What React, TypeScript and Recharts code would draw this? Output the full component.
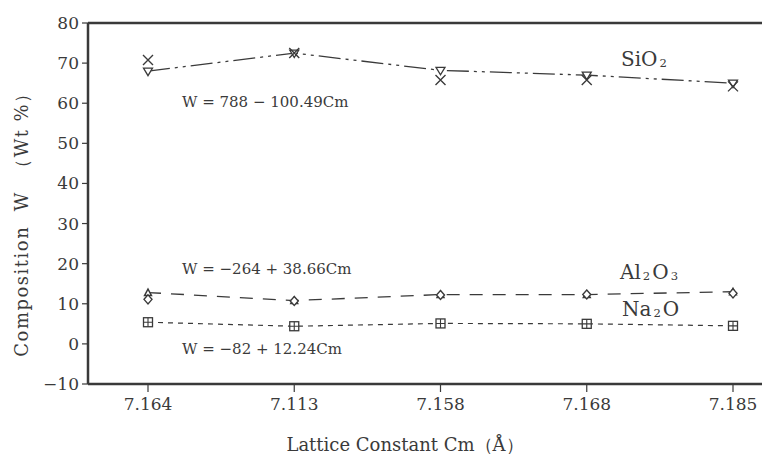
import React from "react";
import {
  LineChart,
  Line,
  XAxis,
  YAxis,
  ReferenceLine,
} from "recharts";

// lattice constant categories (in the order plotted)
const latticeConstants = ["7.164", "7.113", "7.158", "7.168", "7.185"];

// SiO2: fitted line markers (▽) and measured points (×)
const sio2Fit = [68.0, 72.5, 68.2, 67.0, 65.0];
const sio2Measured = [70.8, 72.5, 65.8, 65.8, 64.2];

// Al2O3: fitted line markers (△) and measured points (◇)
const al2o3Fit = [12.8, 10.8, 12.3, 12.3, 13.0];
const al2o3Measured = [11.1, 10.7, 12.2, 12.3, 12.6];

// Na2O
const na2o = [5.4, 4.4, 5.1, 5.0, 4.5];

const yTicks = [-10, 0, 10, 20, 30, 40, 50, 60, 70, 80];

const data = latticeConstants.map((c, i) => ({
  c,
  sio2Fit: sio2Fit[i],
  sio2Measured: sio2Measured[i],
  al2o3Fit: al2o3Fit[i],
  al2o3Measured: al2o3Measured[i],
  na2o: na2o[i],
}));

const INK = "#3a3a3a";
const FONT = "'DejaVu Serif', 'Liberation Serif', serif";

const TriDown = (p: any) => {
  const { cx, cy } = p;
  if (cx == null || cy == null) return <g key={p.index} />;
  return (
    <path
      key={p.index}
      d={`M${cx - 4.5},${cy - 3} L${cx + 4.5},${cy - 3} L${cx},${cy + 4.5} Z`}
      fill="#fff"
      stroke={INK}
      strokeWidth={1.3}
    />
  );
};

const Cross = (p: any) => {
  const { cx, cy } = p;
  if (cx == null || cy == null) return <g key={p.index} />;
  const r = 5;
  return (
    <path
      key={p.index}
      d={`M${cx - r},${cy - r} L${cx + r},${cy + r} M${cx - r},${cy + r} L${cx + r},${cy - r}`}
      stroke={INK}
      strokeWidth={1.4}
      fill="none"
    />
  );
};

const TriUp = (p: any) => {
  const { cx, cy } = p;
  if (cx == null || cy == null) return <g key={p.index} />;
  return (
    <path
      key={p.index}
      d={`M${cx - 3.5},${cy + 3} L${cx + 3.5},${cy + 3} L${cx},${cy - 3.5} Z`}
      fill="#fff"
      stroke={INK}
      strokeWidth={1.4}
    />
  );
};

const Diamond = (p: any) => {
  const { cx, cy } = p;
  if (cx == null || cy == null) return <g key={p.index} />;
  return (
    <path
      key={p.index}
      d={`M${cx},${cy - 4.5} L${cx + 4},${cy} L${cx},${cy + 4.5} L${cx - 4},${cy} Z`}
      fill="#fff"
      stroke={INK}
      strokeWidth={1.4}
    />
  );
};

const SquarePlus = (p: any) => {
  const { cx, cy } = p;
  if (cx == null || cy == null) return <g key={p.index} />;
  const r = 4.5;
  return (
    <g key={p.index}>
      <rect x={cx - r} y={cy - r} width={2 * r} height={2 * r} fill="#fff" stroke={INK} strokeWidth={1.3} />
      <path d={`M${cx - r},${cy} L${cx + r},${cy} M${cx},${cy - r} L${cx},${cy + r}`} stroke={INK} strokeWidth={1.1} />
    </g>
  );
};

const Sub = ({ children }: { children: React.ReactNode }) => (
  <span style={{ fontSize: "58%", verticalAlign: "-0.05em", margin: "0 2px" }}>{children}</span>
);

const note = (left: number, top: number, size = 16): React.CSSProperties => ({
  position: "absolute",
  left,
  top,
  fontFamily: FONT,
  fontSize: size,
  color: INK,
  whiteSpace: "pre",
  lineHeight: 1,
});

export default function App() {
  return (
    <div style={{ position: "absolute", left: 0, top: 0, width: 762, height: 461, background: "#fff" }}>
      <LineChart
        width={762}
        height={461}
        data={data}
        margin={{ top: 23, right: 0, bottom: 0, left: 0 }}
      >
        <XAxis
          dataKey="c"
          height={77}
          padding={{ left: 60, right: 29 }}
          axisLine={{ stroke: INK, strokeWidth: 2.5 }}
          tickLine={{ stroke: INK, strokeWidth: 1.2 }}
          tickSize={8}
          tickMargin={6}
          tick={{ fill: INK, fontSize: 17, fontFamily: FONT }}
        />
        <YAxis
          domain={[-10, 80]}
          ticks={yTicks}
          width={88}
          allowDataOverflow
          axisLine={{ stroke: INK, strokeWidth: 2.5 }}
          tickLine={{ stroke: INK, strokeWidth: 1.2 }}
          tickSize={6}
          tickMargin={3}
          tickFormatter={(v: number) => String(v).replace("-", "−")}
          tick={{ fill: INK, fontSize: 17, fontFamily: FONT }}
        />
        <ReferenceLine y={80} stroke={INK} strokeWidth={2.5} />
        <Line
          dataKey="sio2Fit"
          stroke={INK}
          strokeWidth={1.3}
          strokeDasharray="22 5 3 5 3 5"
          type="linear"
          dot={TriDown}
          isAnimationActive={false}
        />
        <Line
          dataKey="sio2Measured"
          stroke="none"
          dot={Cross}
          isAnimationActive={false}
        />
        <Line
          dataKey="al2o3Fit"
          stroke={INK}
          strokeWidth={1.3}
          strokeDasharray="13 10"
          type="linear"
          dot={TriUp}
          isAnimationActive={false}
        />
        <Line
          dataKey="al2o3Measured"
          stroke="none"
          dot={Diamond}
          isAnimationActive={false}
        />
        <Line
          dataKey="na2o"
          stroke={INK}
          strokeWidth={1.2}
          strokeDasharray="5 5"
          type="linear"
          dot={SquarePlus}
          isAnimationActive={false}
        />
      </LineChart>

      <div style={note(621, 49, 20)}>
        SiO<Sub>2</Sub>
      </div>
      <div style={note(620, 262, 20)}>
        Al<Sub>2</Sub>O<Sub>3</Sub>
      </div>
      <div style={note(622, 299, 20)}>
        Na<Sub>2</Sub>O
      </div>
      <div style={note(182, 95, 15)}>W = 788 − 100.49Cm</div>
      <div style={note(182, 262, 15)}>W = −264 + 38.66Cm</div>
      <div style={note(182, 342, 15)}>W = −82 + 12.24Cm</div>

      <div
        style={{
          ...note(22, 220, 18),
          letterSpacing: 1.5,
          transform: "translate(-50%, -50%) rotate(-90deg)",
        }}
      >
        {"Composition  W  （Wt %）"}
      </div>
      <div
        style={{
          ...note(405, 445, 18),
          transform: "translate(-50%, -50%)",
        }}
      >
        Lattice Constant Cm（Å）
      </div>
    </div>
  );
}
